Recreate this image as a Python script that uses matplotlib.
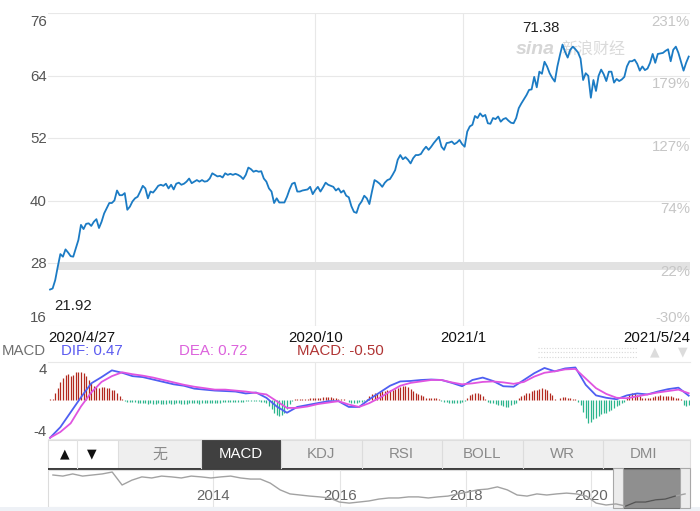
import numpy as np
import matplotlib
matplotlib.use("Agg")
import matplotlib.pyplot as plt
from matplotlib.patches import Rectangle

plt.rcParams["font.family"] = ["Liberation Sans", "Noto Sans CJK SC", "DejaVu Sans"]

# daily closes 2020/4/27 .. 2021/5/24
closes = [
    23.0, 23.2, 24.8, 27.4, 29.8, 29.3, 30.7, 30.1, 29.4, 29.3,
    30.9, 32.5, 35.4, 34.6, 35.6, 35.7, 35.2, 36.0, 36.5, 34.8,
    36.0, 37.6, 38.6, 39.6, 39.6, 40.1, 42.0, 41.1, 41.1, 41.5,
    38.3, 38.9, 39.9, 40.5, 40.8, 41.8, 42.9, 42.4, 40.5, 41.8,
    41.6, 42.2, 42.9, 43.1, 42.9, 43.3, 42.4, 43.1, 42.2, 43.3,
    43.5, 43.1, 43.3, 43.7, 44.3, 43.4, 43.7, 44.0, 43.7, 44.0,
    43.7, 43.8, 44.3, 45.3, 45.0, 44.7, 44.8, 44.5, 45.3, 45.0,
    45.2, 45.0, 45.2, 45.0, 44.7, 44.2, 45.0, 46.4, 46.1, 45.6,
    45.8, 45.6, 45.7, 44.3, 43.7, 42.4, 41.8, 39.6, 40.5, 39.7,
    39.7, 39.7, 40.8, 42.2, 43.3, 43.5, 41.8, 41.8, 42.0, 42.1,
    42.2, 42.7, 41.3, 42.1, 42.7, 41.8, 42.6, 43.5, 43.1, 42.9,
    42.7, 42.0, 42.4, 41.6, 42.0, 41.0, 40.7, 39.0, 37.9, 37.7,
    39.2, 39.9, 41.0, 40.5, 39.4, 41.8, 44.0, 43.7, 43.3, 42.7,
    43.5, 44.0, 44.2, 45.0, 45.9, 47.9, 48.8, 48.0, 48.4, 47.9,
    47.2, 48.2, 48.8, 48.8, 49.0, 49.8, 50.4, 49.8, 50.4, 51.1,
    51.7, 52.3, 50.4, 49.8, 51.1, 51.2, 51.4, 50.9, 51.2, 51.7,
    50.9, 50.4, 53.3, 54.3, 54.6, 56.3, 55.9, 56.8, 56.2, 56.5,
    54.9, 54.8, 55.9, 55.7, 56.2, 55.2, 55.7, 55.9, 55.4, 55.0,
    54.9, 55.9, 57.8, 58.7, 59.5, 60.3, 61.3, 61.4, 63.8, 61.8,
    64.8, 64.4, 66.7, 65.8, 64.5, 63.6, 62.9, 65.8, 68.0, 70.0,
    68.6, 67.5, 69.0, 69.6, 69.1, 68.5, 67.3, 63.2, 64.5, 64.0,
    59.8, 63.2, 61.1, 64.0, 65.2, 64.3, 63.0, 64.8, 64.8, 62.7,
    63.4, 63.0, 63.3, 63.8, 65.8, 66.8, 66.8, 67.1, 66.3, 65.0,
    65.8, 65.1, 65.4, 66.5, 68.2, 66.5, 68.2, 68.3, 68.4, 68.8,
    69.1, 66.8, 69.0, 69.6, 68.4, 66.7, 65.0, 66.5, 67.7,
]
low_label = 21.92
high_label = 71.38
price_ticks = [76, 64, 52, 40, 28, 16]
pct_labels = ["231%", "179%", "127%", "74%", "22%", "-30%"]
date_labels = ["2020/4/27", "2020/10", "2021/1", "2021/5/24"]
month_pos = [103, 160.5]   # day index of 2020/10 and 2021/1

# MACD histogram, one bar per day
hist = [
    0.1, 0.15, 0.8, 1.3, 1.85, 2.3, 2.65, 2.7, 2.55, 2.65,
    2.9, 2.95, 2.9, 2.8, 2.5, 2.15, 1.75, 1.45, 1.35, 1.3,
    1.35, 1.35, 1.3, 1.3, 1.1, 1.05, 0.8, 0.4, 0.1,
    -0.08, -0.15, -0.2, -0.2, -0.22, -0.25, -0.25, -0.28,
    -0.32, -0.35, -0.33, -0.36, -0.35, -0.34, -0.36, -0.38, -0.35, -0.33,
    -0.35, -0.36, -0.34, -0.33, -0.35, -0.37, -0.36, -0.34, -0.33, -0.32,
    -0.34, -0.35, -0.33, -0.3, -0.28, -0.27, -0.28, -0.26, -0.25, -0.24,
    -0.22, -0.23, -0.2, -0.2,
    -0.18, -0.16, -0.15, -0.14, -0.15, -0.13, -0.12, -0.12, -0.1, -0.1,
    -0.12, -0.15, -0.2,
    -0.3, -0.65, -0.95, -1.3, -1.5, -1.6, -1.5, -1.3, -0.9, -0.4, -0.1,
    0.08, 0.12, 0.12, 0.16, 0.16, 0.16, 0.2, 0.24, 0.24, 0.24,
    0.28, 0.32, 0.32, 0.36, 0.32, 0.28, 0.24, 0.16, 0.12, 0.08,
    0.02,
    -0.16, -0.24, -0.24, -0.24, -0.2, -0.16, -0.08,
    0.16, 0.4,
    0.65, 0.7, 0.8, 0.9, 0.95, 0.95, 1.05, 1.1, 1.1, 1.2,
    1.3, 1.35, 1.45, 1.5, 1.35, 1.2,
    0.95, 0.8, 0.65, 0.5, 0.4,
    0.28, 0.24, 0.24, 0.24, 0.2, 0.16,
    -0.08, -0.16, -0.2, -0.24, -0.28, -0.28, -0.24, -0.24, -0.16, -0.08,
    0.24, 0.5, 0.65, 0.8, 0.72, 0.65, 0.4,
    0.16,
    -0.16, -0.24, -0.32, -0.4, -0.5, -0.55, -0.65, -0.72, -0.68, -0.55, -0.4, -0.24,
    0.24, 0.4, 0.55, 0.72, 0.8, 0.95, 1.05, 1.1, 1.2, 1.3, 1.2, 1.05, 0.8, 0.5,
    0.16, 0.04,
    0.24, 0.32, 0.32, 0.28, 0.24, 0.16,
    0.08,
    -0.16, -0.55, -1.2, -1.85, -2.4, -2.25, -2.0, -1.85, -1.6, -1.45,
    -1.35, -1.3, -1.1, -1.05, -0.8, -0.65, -0.5, -0.32, -0.16,
    0.32, 0.65, 0.8, 0.72, 0.55, 0.4, 0.28, 0.24, 0.28, 0.24, 0.32,
    0.4, 0.48, 0.52, 0.48, 0.48, 0.44, 0.4, 0.32, 0.28, 0.24, 0.16,
    -0.55, -0.6, -0.5,
]

# DIF / DEA read every 4th day
dif = [
    -3.9, -2.8, -1.25, 0.3, 1.75, 2.4, 3.1, 2.85, 2.5, 2.4,
    2.15, 1.9, 1.65, 1.5, 1.2, 1.1, 1.0, 0.95, 0.9, 0.7,
    0.8, 0.25, -0.65, -1.3, -0.7, -0.5, -0.3, -0.1, -0.1, -0.7,
    -0.7, 0.1, 0.8, 1.5, 1.95, 2.0, 2.1, 2.15, 2.1, 1.8,
    1.45, 2.1, 2.35, 2.0, 1.45, 1.4, 2.1, 2.8, 3.35, 3.0,
    3.3, 3.4, 1.6, 0.5, 0.25, 0.1, 0.5, 0.7, 0.6, 0.9,
    1.15, 1.3, 0.47,
]
dea = [
    -3.9, -3.3, -2.4, -0.65, 0.8, 1.9, 2.5, 2.9, 2.7, 2.55,
    2.35, 2.1, 1.85, 1.6, 1.4, 1.25, 1.1, 1.1, 1.0, 0.9,
    0.75, 0.6, -0.1, -0.8, -0.8, -0.65, -0.4, -0.25, -0.1, -0.45,
    -0.7, -0.3, 0.25, 0.9, 1.5, 1.8, 1.95, 2.1, 2.1, 1.85,
    1.65, 1.75, 1.9, 1.95, 1.85, 1.7, 1.9, 2.45, 2.85, 3.0,
    3.2, 3.25, 2.25, 1.25, 0.65, 0.25, 0.2, 0.4, 0.6, 0.8,
    0.95, 1.1, 0.72,
]
dif_last, dea_last, macd_last = 0.47, 0.72, -0.50

tabs = ["无", "MACD", "KDJ", "RSI", "BOLL", "WR", "DMI"]
active_tab = "MACD"

# long history in the navigator strip
nav_close = [
    133, 129, 137, 129, 133, 137, 144, 96, 114, 126,
    122, 129, 126, 122, 129, 126, 122, 126, 129, 122,
    118, 118, 103, 78, 63, 59, 55, 52, 48, 33,
    29, 33, 37, 44, 48, 48, 52, 52, 48, 52,
    55, 63, 70, 78, 81, 89, 78, 59, 55, 63,
    59, 63, 66, 63, 55, 29, 22, 26, 18, 33,
    33, 41, 44, 55, 63,
]
nav_years = ["2014", "2016", "2018", "2020"]
nav_year_pos = [16.2, 29.1, 41.8, 54.5]

W, H = 700, 511
FS = 10.8


def px_box(x0, y0, x1, y1):
    return [x0 / W, 1 - y1 / H, (x1 - x0) / W, (y1 - y0) / H]


fig = plt.figure(figsize=(W / 100, H / 100), dpi=100)
fig.patch.set_facecolor("white")

# pixel-space layer for the widget chrome
ui = fig.add_axes([0, 0, 1, 1])
ui.set_xlim(0, W)
ui.set_ylim(H, 0)
ui.axis("off")

n = len(closes)
x = np.arange(n)
grid_c = "#e8e8e8"

# ---- price panel
ax = fig.add_axes(px_box(48, 13.3, 690, 326))
ax.set_facecolor("none")
ax.set_xlim(-0.8, n - 0.5)
ax.set_ylim(16, 76)
for s in ax.spines.values():
    s.set_visible(False)
ax.set_xticks([])
ax.set_yticks([])
for v in price_ticks:
    ax.axhline(v, color=grid_c, lw=0.8, zorder=1)
for p in month_pos:
    ax.axvline(p, color=grid_c, lw=0.8, zorder=1)
ax.axhspan(26.7, 28.2, xmin=0.016, xmax=1, color="#e2e2e2", lw=0, zorder=1)
ax.plot(x, closes, color="#1b7bc4", lw=1.3, zorder=3)

for i, (v, lab) in enumerate(zip(price_ticks, pct_labels)):
    off_l = -8.4 if i == 0 else (8 if i == len(price_ticks) - 1 else -1)
    off_r = 8 if i == len(price_ticks) - 1 else -8.5
    ax.annotate(str(v), xy=(0, v), xycoords=("axes fraction", "data"),
                xytext=(-1, off_l), textcoords="offset pixels",
                ha="right", va="center", fontsize=FS, color="#555555")
    ax.annotate(lab, xy=(1, v), xycoords=("axes fraction", "data"),
                xytext=(0, off_r), textcoords="offset pixels",
                ha="right", va="center", fontsize=FS, color="#c6c6c6")

imax = int(np.argmax(closes))
imin = int(np.argmin(closes))
ax.annotate(f"{high_label:.2f}", xy=(imax, closes[imax]), xytext=(-22, 17),
            textcoords="offset pixels", ha="center", va="center",
            fontsize=FS, color="#222222")
ax.annotate(f"{low_label:.2f}", xy=(imin, closes[imin]), xytext=(4, -16),
            textcoords="offset pixels", ha="left", va="center",
            fontsize=FS, color="#222222")

# date labels
date_x = [0, month_pos[0], month_pos[1], n - 1]
date_ha = ["left", "center", "center", "right"]
for k, (lab, p, ha) in enumerate(zip(date_labels, date_x, date_ha)):
    if k == 0:
        xy, xc = (0, 0), "axes fraction"
    elif k == 3:
        xy, xc = (1, 0), "axes fraction"
    else:
        xy, xc = (p, 0), "data"
    ax.annotate(lab, xy=xy, xycoords=(xc, "axes fraction"), xytext=(0, -12),
                textcoords="offset pixels", ha=ha, va="center",
                fontsize=FS, color="#111111")

# watermark
ui.text(516, 50, "sina", fontsize=14, style="italic", weight="bold",
        color="#d6d6d6", ha="left", va="center")
ui.text(561, 50, "新浪财经", fontsize=11.5, style="italic",
        color="#dadada", ha="left", va="center")

# ---- MACD legend row
ui.text(2, 351, "MACD", fontsize=FS, color="#707070", va="center")
ui.text(61, 351, f"DIF: {dif_last:.2f}", fontsize=FS, color="#5c5cf0", va="center")
ui.text(179, 351, f"DEA: {dea_last:.2f}", fontsize=FS, color="#dc62dc", va="center")
ui.text(297, 351, f"MACD: {macd_last:.2f}", fontsize=FS, color="#b03434", va="center")
for yy in (348, 352.5, 357):
    ui.plot([538, 638], [yy, yy], color="#d8d8d8", lw=0.8, ls=(0, (1, 1.5)))
ui.text(655, 352, "▲", fontsize=9, color="#dcdcdc", ha="center", va="center",
        family=["DejaVu Sans"])
ui.text(683, 352, "▼", fontsize=9, color="#dcdcdc", ha="center", va="center",
        family=["DejaVu Sans"])

# ---- MACD panel
ax2 = fig.add_axes(px_box(48, 361.7, 690, 438.7))
ax2.set_facecolor("none")
ax2.set_xlim(-0.8, n - 0.5)
ax2.set_ylim(-4, 4)
for side, s in ax2.spines.items():
    if side in ("top", "bottom"):
        s.set_color(grid_c)
        s.set_linewidth(0.8)
    else:
        s.set_visible(False)
ax2.set_xticks([])
ax2.set_yticks([])
for p in month_pos:
    ax2.axvline(p, color=grid_c, lw=0.8, zorder=1)
hv = np.array(hist)
cols = np.where(hv >= 0, "#b3291f", "#2cb58d")
ax2.vlines(x[:len(hv)], 0, hv, colors=cols, lw=0.9, zorder=2)
xs = np.arange(0, n, 4)[:len(dif)]
ax2.plot(xs, dif, color="#4f5ff2", lw=1.3, zorder=3)
ax2.plot(xs, dea, color="#e054e0", lw=1.3, zorder=3)
ax2.annotate("4", xy=(0, 4), xycoords=("axes fraction", "data"), xytext=(-1, -8.3),
             textcoords="offset pixels", ha="right", va="center", fontsize=FS, color="#555555")
ax2.annotate("-4", xy=(0, -4), xycoords=("axes fraction", "data"), xytext=(-1, 7),
             textcoords="offset pixels", ha="right", va="center", fontsize=FS, color="#555555")

# ---- indicator tab bar
ui.add_patch(Rectangle((48, 440), 642, 28, fc="#efefef", ec="#dedede", lw=0.8))
ui.add_patch(Rectangle((48, 440), 70, 28, fc="white", ec="#dedede", lw=0.8))
ui.plot([77, 77], [440, 468], color="#e2e2e2", lw=0.8)
ui.text(65, 454, "▲", fontsize=9, color="#111111", ha="center", va="center",
        family=["DejaVu Sans"])
ui.text(92, 454, "▼", fontsize=9, color="#111111", ha="center", va="center",
        family=["DejaVu Sans"])
tab_w = 80.5
for k, name in enumerate(tabs):
    x0 = 120 + k * tab_w
    if name == active_tab:
        ui.add_patch(Rectangle((x0, 440), tab_w, 28, fc="#404040", ec="none"))
        tc = "white"
    else:
        tc = "#8a8a8a"
    if k > 0:
        ui.plot([x0, x0], [440, 468], color="#dcdcdc", lw=0.8)
    ui.text(x0 + tab_w / 2, 454.5, name, fontsize=FS, color=tc, ha="center", va="center")
ui.add_patch(Rectangle((48, 468), 642, 2.2, fc="#3e3e3e", ec="none"))

# ---- navigator
ui.add_patch(Rectangle((48, 470), 642, 37, fc="none", ec="#dcdcdc", lw=0.8))
ui.add_patch(Rectangle((0, 507.5), W, 4, fc="#eef1f6", ec="none"))
nav = fig.add_axes(px_box(48, 470, 690, 507))
nav.set_facecolor("none")
nn = len(nav_close)
nav.set_xlim(-0.5, nn - 0.5)
nav.set_ylim(14.6, 151.5)
nav.axis("off")
for p, lab in zip(nav_year_pos, nav_years):
    nav.axvline(p, color="#e4e4e4", lw=0.8, zorder=1)
    nav.text(p, 0.3, lab, transform=nav.get_xaxis_transform(), ha="center",
             va="center", fontsize=FS, color="#666666", zorder=2)
win0, win1 = 0.895, 0.984
nav.add_patch(Rectangle((win0, -0.02), win1 - win0, 1.04, transform=nav.transAxes,
                        fc="#8f8f8f", ec="#6f6f6f", lw=0.8, zorder=2, clip_on=False))
for hx, hw in ((0.880, 0.015), (0.984, 0.016)):
    nav.add_patch(Rectangle((hx, -0.02), hw, 1.08, transform=nav.transAxes,
                            fc="#ececec", ec="#a8a8a8", lw=0.8, zorder=2, clip_on=False))
nx = np.arange(nn)
nav.plot(nx, nav_close, color="#a2a2a2", lw=1.0, zorder=3)
xf = (nx + 0.5) / nn
inwin = (xf >= win0) & (xf <= win1)
nav.plot(nx[inwin], np.array(nav_close)[inwin], color="#555555", lw=1.0, zorder=4)

fig.savefig("out.png", dpi=100, facecolor="white")
